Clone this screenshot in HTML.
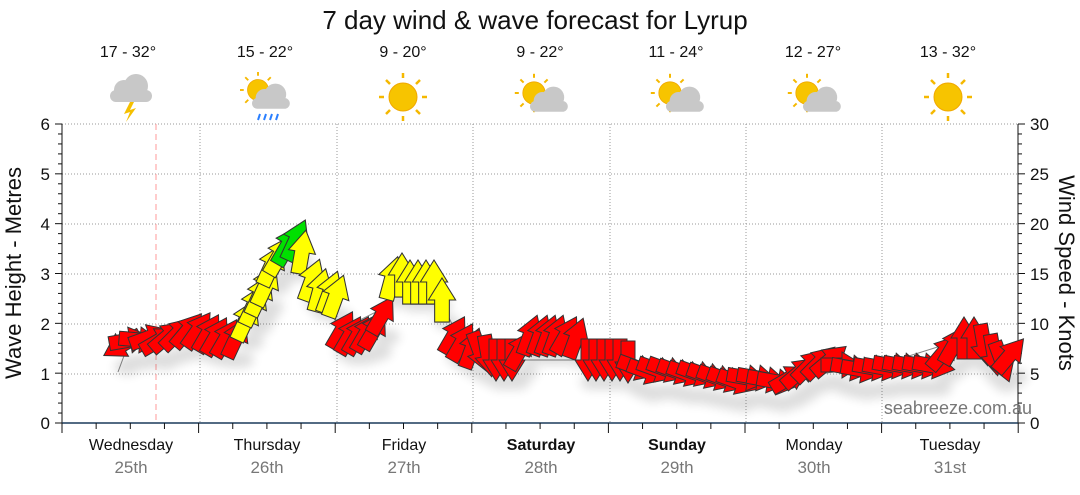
<!DOCTYPE html>
<html><head><meta charset="utf-8"><style>
body{margin:0;background:#fff;width:1080px;height:490px;overflow:hidden;font-family:"Liberation Sans","DejaVu Sans",sans-serif}
</style></head><body>
<svg id="s" width="1080" height="490" xmlns="http://www.w3.org/2000/svg" font-family="Liberation Sans, DejaVu Sans, sans-serif">
<defs>
<filter id="sh" x="-50%" y="-50%" width="200%" height="200%"><feGaussianBlur stdDeviation="5"/></filter>
<g id="sun"><g stroke="#f5b800" stroke-width="2.5"><line x1="0" y1="-24" x2="0" y2="-19"/><line x1="0" y1="24" x2="0" y2="19"/><line x1="-24" y1="0" x2="-19" y2="0"/><line x1="24" y1="0" x2="19" y2="0"/><line x1="-17" y1="-17" x2="-13" y2="-13"/><line x1="17" y1="17" x2="13" y2="13"/><line x1="-17" y1="17" x2="-13" y2="13"/><line x1="17" y1="-17" x2="13" y2="-13"/></g><circle r="14" fill="#f7c400" stroke="#f0a800" stroke-width="1"/></g>
<g id="cloud" fill="#c8c8c8"><circle cx="-6" cy="0" r="10"/><circle cx="6" cy="-4" r="12"/><rect x="-20" y="0" width="42" height="12" rx="6"/></g>
</defs>
<text x="535" y="29" text-anchor="middle" font-size="26" fill="#111">7 day wind &amp; wave forecast for Lyrup</text>
<g font-size="16" fill="#111" text-anchor="middle">
<text x="128" y="57">17 - 32°</text><text x="265" y="57">15 - 22°</text><text x="403" y="57">9 - 20°</text><text x="540" y="57">9 - 22°</text><text x="676" y="57">11 - 24°</text><text x="813" y="57">12 - 27°</text><text x="948" y="57">13 - 32°</text>
</g>
<g transform="translate(130,90)"><use href="#cloud"/><polygon points="0,12 -6,24 0,22 -4,32 6,18 0,20 4,12" fill="#f5c000"/></g>
<g transform="translate(262,92)"><use href="#sun" transform="translate(-4,-2) scale(0.75)"/><use href="#cloud" transform="translate(8,6) scale(0.9)"/><g stroke="#2a7fff" stroke-width="2"><line x1="-2" y1="22" x2="-4" y2="28"/><line x1="4" y1="22" x2="2" y2="28"/><line x1="10" y1="22" x2="8" y2="28"/><line x1="16" y1="22" x2="14" y2="28"/></g></g>
<use href="#sun" transform="translate(403,97)"/>
<g transform="translate(540,97)"><use href="#sun" transform="translate(-6,-4) scale(0.8)"/><use href="#cloud" transform="translate(8,4) scale(0.9)"/></g>
<g transform="translate(676,97)"><use href="#sun" transform="translate(-6,-4) scale(0.8)"/><use href="#cloud" transform="translate(8,4) scale(0.9)"/></g>
<g transform="translate(813,97)"><use href="#sun" transform="translate(-6,-4) scale(0.8)"/><use href="#cloud" transform="translate(8,4) scale(0.9)"/></g>
<use href="#sun" transform="translate(948,97)"/>
<g stroke="#999" stroke-dasharray="1,2" stroke-width="1">
<line x1="62" y1="124" x2="1018" y2="124"/><line x1="62" y1="174" x2="1018" y2="174"/><line x1="62" y1="224" x2="1018" y2="224"/><line x1="62" y1="274" x2="1018" y2="274"/><line x1="62" y1="324" x2="1018" y2="324"/><line x1="62" y1="374" x2="1018" y2="374"/>
<line x1="200" y1="124" x2="200" y2="423"/><line x1="337" y1="124" x2="337" y2="423"/><line x1="473" y1="124" x2="473" y2="423"/><line x1="610" y1="124" x2="610" y2="423"/><line x1="746" y1="124" x2="746" y2="423"/><line x1="882" y1="124" x2="882" y2="423"/>
</g>
<line x1="156" y1="124" x2="156" y2="423" stroke="#ff9a9a" stroke-dasharray="6,4"/>
<g stroke="#111" stroke-width="1"><line x1="62" y1="124" x2="62" y2="423"/><line x1="1018" y1="124" x2="1018" y2="423"/></g>
<line x1="62" y1="423" x2="1018" y2="423" stroke="#1a3a5a" stroke-width="1.5"/>
<g id="ticks" stroke="#111"></g>
<g font-size="17" fill="#111" text-anchor="end">
<text x="50" y="130">6</text><text x="50" y="180">5</text><text x="50" y="230">4</text><text x="50" y="280">3</text><text x="50" y="330">2</text><text x="50" y="380">1</text><text x="50" y="429">0</text>
</g>
<g font-size="17" fill="#111" text-anchor="start">
<text x="1030" y="130">30</text><text x="1030" y="180">25</text><text x="1030" y="230">20</text><text x="1030" y="280">15</text><text x="1030" y="330">10</text><text x="1030" y="380">5</text><text x="1030" y="429">0</text>
</g>
<text transform="translate(21,273) rotate(-90)" text-anchor="middle" font-size="22" fill="#111">Wave Height - Metres</text>
<text transform="translate(1059,273) rotate(90)" text-anchor="middle" font-size="22" fill="#111">Wind Speed - Knots</text>
<text x="1032" y="414" text-anchor="end" font-size="18" fill="#777">seabreeze.com.au</text>
<g font-size="16" fill="#111" text-anchor="middle">
<text x="131" y="450">Wednesday</text><text x="267" y="450">Thursday</text><text x="404" y="450">Friday</text><text x="541" y="450" font-weight="bold">Saturday</text><text x="677" y="450" font-weight="bold">Sunday</text><text x="814" y="450">Monday</text><text x="950" y="450">Tuesday</text>
</g>
<g font-size="17" fill="#777" text-anchor="middle">
<text x="131" y="473">25th</text><text x="267" y="473">26th</text><text x="404" y="473">27th</text><text x="541" y="473">28th</text><text x="677" y="473">29th</text><text x="814" y="473">30th</text><text x="950" y="473">31st</text>
</g>
<polyline points="118,372 128,345 200,330 240,330 290,240 320,290 340,330 380,310 400,280 440,300 460,340 520,360 600,360 700,370 780,380 880,365 960,340 1018,360" fill="none" stroke="#888" stroke-width="1"/>
<g id="shadow" filter="url(#sh)" opacity="0.13"></g>
<g id="arr" stroke="#333" stroke-width="1"></g>
</svg>
<script>
var t=document.getElementById('ticks'),s='';
for(var i=0;i<=30;i++){var y=124+i*299/30;var L=(i%5==0)?7:4;
s+='<line x1="'+(62-L)+'" y1="'+y+'" x2="62" y2="'+y+'"/>';
s+='<line x1="1018" y1="'+y+'" x2="'+(1018+L)+'" y2="'+y+'"/>';}
for(var d=0;d<=28;d++){var x=62+d*136.6/4;var L=(d%4==0)?10:6;if(x>1019)break;s+='<line x1="'+x+'" y1="423" x2="'+x+'" y2="'+(423+L)+'"/>';}
t.innerHTML=s;
var R='#ff0000',Y='#ffff00',G='#00e000';
var A=[
[122,345,-120,R],[130,340,80,R],[140,340,95,R],[150,337,70,R],[160,340,60,R],[168,336,50,R],[178,333,45,R],[188,330,40,R],[198,330,35,R],[208,333,30,R],[216,336,30,R],[226,338,30,R],[236,338,25,R],
[246,320,25,Y],[254,305,25,Y],[260,295,25,Y],[266,285,25,Y],[272,265,25,Y],[280,255,30,Y],[288,245,30,G],[296,240,25,G],[302,252,10,Y],[312,280,20,Y],[320,290,15,Y],[330,292,20,Y],[336,296,20,Y],
[342,330,30,R],[350,335,30,R],[358,335,30,R],[366,333,30,R],[374,330,30,R],[382,315,30,R],
[392,278,15,Y],[402,275,0,Y],[410,282,0,Y],[418,282,0,Y],[426,282,0,Y],[434,282,0,Y],[442,300,0,Y],
[454,335,30,R],[462,342,30,R],[472,348,20,R],[480,352,160,R],[488,356,170,R],[496,360,180,R],[504,360,180,R],[512,360,180,R],[520,350,30,R],[530,335,20,R],[540,335,20,R],[548,335,20,R],[556,335,20,R],[566,335,30,R],[576,338,20,R],
[588,360,180,R],[596,360,180,R],[604,360,180,R],[612,360,180,R],[620,360,180,R],[628,362,180,R],[638,368,110,R],[648,372,110,R],[658,370,110,R],[668,370,110,R],[678,372,110,R],[688,374,110,R],[698,374,110,R],[708,376,110,R],[718,378,110,R],[728,380,110,R],[738,382,110,R],
[748,378,100,R],[758,378,100,R],[768,380,100,R],[778,382,100,R],[790,378,60,R],[800,372,50,R],[810,365,45,R],[820,362,45,R],[830,360,50,R],[842,365,90,R],[852,368,100,R],[862,370,100,R],
[874,368,100,R],[884,368,100,R],[894,366,100,R],[904,366,100,R],[914,366,100,R],[924,366,100,R],[934,366,100,R],[944,352,40,R],[954,345,30,R],[964,338,0,R],[974,338,0,R],[984,345,170,R],[994,355,170,R],[1002,362,160,R],[1010,355,40,R]];
var P="-7,21 -7,0 -13,0 0,-21 13,0 7,0 7,21";
var a=document.getElementById('arr'),sh=document.getElementById('shadow'),h='',hs='';
A.forEach(function(p){var sc=p[3]==R?1.0:1.05;
h+='<polygon points="'+P+'" fill="'+p[3]+'" transform="translate('+p[0]+','+p[1]+') rotate('+p[2]+') scale('+sc+')"/>';
hs+='<ellipse cx="'+(p[0]+5)+'" cy="'+(p[1]+22)+'" rx="13" ry="8" fill="#000"/>';});
a.innerHTML=h;sh.innerHTML=hs;
</script>
</body></html>
